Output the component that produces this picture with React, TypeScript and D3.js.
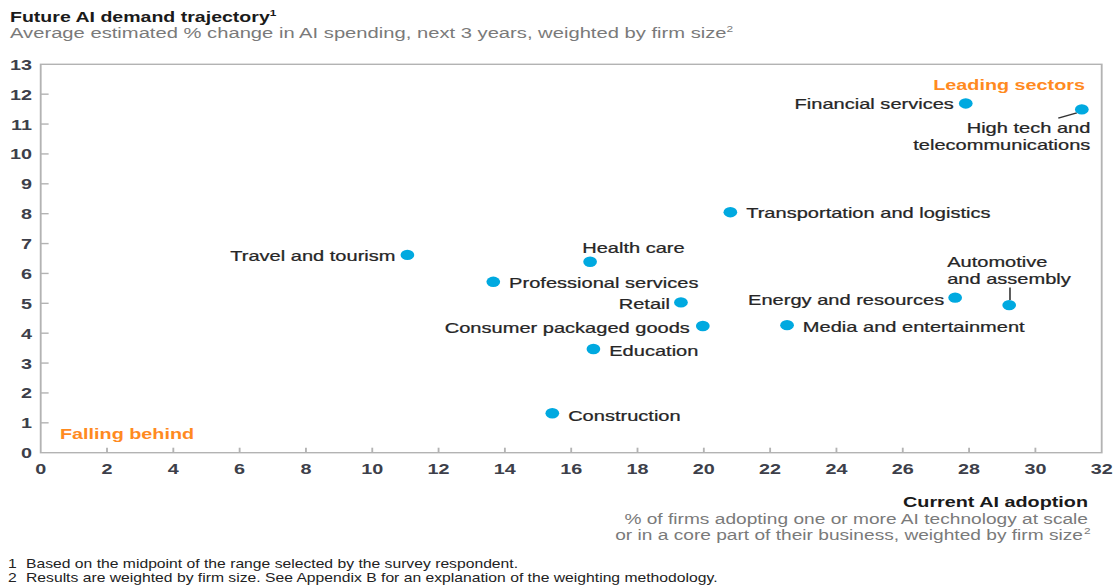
import React from "react";
import * as d3 from "d3";

// ---- data ----
const sectors = [
  "Financial services",
  "High tech and telecommunications",
  "Transportation and logistics",
  "Travel and tourism",
  "Health care",
  "Professional services",
  "Retail",
  "Consumer packaged goods",
  "Education",
  "Construction",
  "Media and entertainment",
  "Energy and resources",
  "Automotive and assembly",
];
const adoption = [27.9, 31.4, 20.8, 11.06, 16.57, 13.65, 19.31, 19.97, 16.67, 15.43, 22.51, 27.58, 29.21];
const demand = [11.69, 11.49, 8.05, 6.62, 6.39, 5.72, 5.03, 4.24, 3.47, 1.32, 4.27, 5.19, 4.94];
const xTicks = [0, 2, 4, 6, 8, 10, 12, 14, 16, 18, 20, 22, 24, 26, 28, 30, 32];
const yTicks = [0, 1, 2, 3, 4, 5, 6, 7, 8, 9, 10, 11, 12, 13];

// ---- label placement (style) ----
type Place = { lines: string[]; anchor: string; dx: number; dy: number; lh?: number; leader?: [number, number, number, number] };
const placement: Record<string, Place> = {
  "Financial services": { lines: ["Financial services"], anchor: "end", dx: -9, dy: 6 },
  "High tech and telecommunications": { lines: ["High tech and", "telecommunications"], anchor: "end", dx: 6.5, dy: 23.5, lh: 17, leader: [-17.8, 8.7, -3.8, 3.4] },
  "Transportation and logistics": { lines: ["Transportation and logistics"], anchor: "start", dx: 12, dy: 6 },
  "Travel and tourism": { lines: ["Travel and tourism"], anchor: "end", dx: -9, dy: 6.5 },
  "Health care": { lines: ["Health care"], anchor: "start", dx: -6, dy: -8.5 },
  "Professional services": { lines: ["Professional services"], anchor: "start", dx: 12, dy: 6.5 },
  "Retail": { lines: ["Retail"], anchor: "end", dx: -8.3, dy: 6.5 },
  "Consumer packaged goods": { lines: ["Consumer packaged goods"], anchor: "end", dx: -9.8, dy: 6.5 },
  "Education": { lines: ["Education"], anchor: "start", dx: 12, dy: 7 },
  "Construction": { lines: ["Construction"], anchor: "start", dx: 12, dy: 8 },
  "Media and entertainment": { lines: ["Media and entertainment"], anchor: "start", dx: 12, dy: 6.5 },
  "Energy and resources": { lines: ["Energy and resources"], anchor: "end", dx: -8.3, dy: 7 },
  "Automotive and assembly": { lines: ["Automotive", "and assembly"], anchor: "start", dx: -47, dy: -38, lh: 16.5, leader: [0.6, -17.5, 0.6, -5] },
};

const SX = 1.32;
const W = 1120 / SX;
const H = 588;
const FONT = "'Liberation Sans', Arial, Helvetica, sans-serif";
const DOT = "#00a9e0";
const ORANGE = "#ff8a1f";
const TEXT = "#262626";
const GREY = "#7a7a7a";
const AXIS = "#b3b3b3";

export default function App() {
  const x = d3.scaleLinear().domain([0, 32]).range([40.7 / SX, 1101.7 / SX]);
  const y = d3.scaleLinear().domain([0, 13]).range([452.7, 64.3]);
  const [x0, x1] = x.range();
  const [yb, yt] = y.range();

  return (
    <svg
      width={1120}
      height={588}
      viewBox={`0 0 ${W} ${H}`}
      preserveAspectRatio="none"
      style={{ position: "absolute", left: 0, top: 0, background: "#fff" }}
      fontFamily={FONT}
    >
      <rect x={0} y={0} width={W} height={H} fill="#fff" />
      {/* titles */}
      <text x={10 / SX} y={22} fontSize={14.8} fontWeight="bold" fill="#1a1a1a">
        Future AI demand trajectory
        <tspan fontSize={9} dy={-6}>1</tspan>
      </text>
      <text x={10 / SX} y={38} fontSize={15.3} fill={GREY}>
        Average estimated % change in AI spending, next 3 years, weighted by firm size
        <tspan fontSize={9} dy={-6}>2</tspan>
      </text>

      {/* frame */}
      <rect x={x0} y={yt} width={x1 - x0} height={yb - yt} fill="none" stroke={AXIS} strokeWidth={1.4} />
      {yTicks.map((t) => (
        <g key={"y" + t}>
          {t > 0 && t < 13 && <line x1={x0} x2={x0 + 6} y1={y(t)} y2={y(t)} stroke={AXIS} strokeWidth={1.4} />}
          <text x={32 / SX} y={y(t) + 5.5} fontSize={15} fontWeight="bold" fill="#3d3f4a" textAnchor="end">
            {t}
          </text>
        </g>
      ))}
      {xTicks.map((t) => (
        <g key={"x" + t}>
          {t > 0 && t < 32 && <line x1={x(t)} x2={x(t)} y1={yb} y2={yb - 5} stroke={AXIS} strokeWidth={1.4} />}
          <text x={x(t)} y={474} fontSize={15} fontWeight="bold" fill="#3d3f4a" textAnchor="middle">
            {t}
          </text>
        </g>
      ))}

      {/* quadrant labels */}
      <text x={1085 / SX} y={90} fontSize={15} fontWeight="bold" fill={ORANGE} textAnchor="end">
        Leading sectors
      </text>
      <text x={60 / SX} y={439} fontSize={15} fontWeight="bold" fill={ORANGE}>
        Falling behind
      </text>

      {/* points */}
      {sectors.map((s, i) => {
        const px = x(adoption[i]);
        const py = y(demand[i]);
        const p = placement[s];
        return (
          <g key={s}>
            {p.leader && (
              <line
                x1={px + p.leader[0]}
                y1={py + p.leader[1]}
                x2={px + p.leader[2]}
                y2={py + p.leader[3]}
                stroke="#333"
                strokeWidth={1.2}
              />
            )}
            <circle cx={px} cy={py} r={5.2} fill={DOT} />
            <text x={px + p.dx} y={py + p.dy} fontSize={15.2} fill={TEXT} stroke={TEXT} strokeWidth={0.25} textAnchor={p.anchor}>
              {p.lines.map((l, j) => (
                <tspan key={j} x={px + p.dx} dy={j === 0 ? 0 : p.lh}>
                  {l}
                </tspan>
              ))}
            </text>
          </g>
        );
      })}

      {/* x-axis title */}
      <text x={1088 / SX} y={507} fontSize={15} fontWeight="bold" fill="#1a1a1a" textAnchor="end">
        Current AI adoption
      </text>
      <text x={1088 / SX} y={524} fontSize={14.5} fill={GREY} textAnchor="end">
        % of firms adopting one or more AI technology at scale
      </text>
      <text x={1083 / SX} y={540} fontSize={14.5} fill={GREY} textAnchor="end">
        or in a core part of their business, weighted by firm size
      </text>
      <text x={1084 / SX} y={534} fontSize={9} fill={GREY}>2</text>

      {/* footnotes */}
      <text x={8 / SX} y={568} fontSize={11.9} fill="#222">1</text>
      <text x={26 / SX} y={568} fontSize={11.9} fill="#222">Based on the midpoint of the range selected by the survey respondent.</text>
      <text x={8 / SX} y={582} fontSize={11.9} fill="#222">2</text>
      <text x={26 / SX} y={582} fontSize={11.9} fill="#222">
        Results are weighted by firm size. See Appendix B for an explanation of the weighting methodology.
      </text>
    </svg>
  );
}
